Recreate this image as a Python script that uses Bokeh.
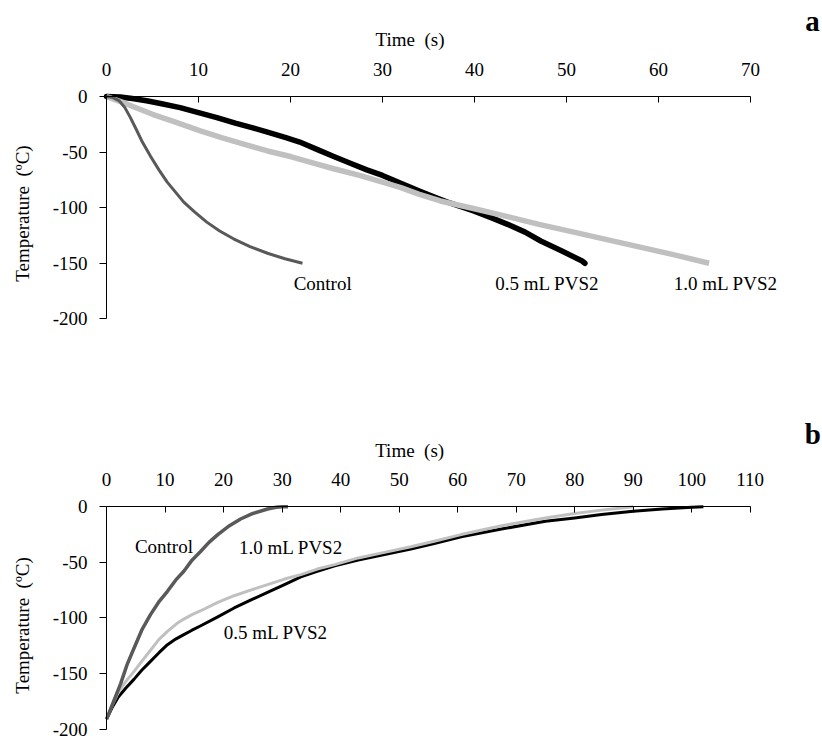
from math import pi
from bokeh.plotting import figure
from bokeh.layouts import column
from bokeh.models import FixedTicker, Range1d, CustomJSTickFormatter
from bokeh.core.properties import value
from bokeh.embed import file_html
from bokeh.resources import INLINE

FONT = "Liberation Serif"

# ---------------- Panel a (cooling) ----------------
a_ctrl_t = [0, 0.7, 1.4, 2.0, 2.6, 3.2, 3.9, 4.8, 5.7, 6.6, 7.5, 8.4, 9.6, 10.9, 12.3, 13.8, 15.6, 17.5, 19.4, 21.3]
a_ctrl_v = [0, -1, -4, -10, -19, -29, -41, -54, -66, -77, -86, -95, -104, -113, -121, -128, -135, -141, -146, -150]

a_05_t = [0, 1.5, 3, 4.5, 6, 8, 10.2, 12, 14, 16, 17.5, 19.5, 21, 23, 24.7, 26.5, 28.3, 30, 32, 34,
          35.5, 37.4, 39.9, 41.8, 43.6, 45.5, 47.2, 49.5, 51.7, 52]
a_05_v = [0, -0.5, -2, -4, -6.5, -10, -15, -19, -24, -28.5, -32, -37, -41, -48, -54, -60, -66, -71, -78, -85,
          -90, -96, -103, -109, -115, -122, -130, -139, -148, -150]

a_10_t = [0, 1, 2, 3, 5, 7.5, 10.2, 12.5, 15, 17.5, 20, 22.5, 24.7, 27.5, 30, 32, 34, 36.3, 40, 43.6,
          47, 50.8, 54.5, 58, 61.5, 65.5]
a_10_v = [0, -3, -6, -9.5, -16, -23, -31, -37, -43, -49, -54, -60, -65, -71, -77, -82, -88, -94, -101, -108,
          -115, -122, -129, -135.5, -142, -150]

a_xticks = [0, 10, 20, 30, 40, 50, 60, 70]
a_yticks = [0, -50, -100, -150, -200]

# ---------------- Panel b (warming) ----------------
b_ctrl_t = [0, 1.2, 2.4, 3.5, 4.7, 6, 7.5, 9, 10.4, 11.8, 13.2, 14.6, 16.1, 17.5, 19, 21, 22.9, 25, 27.5, 29, 30, 31]
b_ctrl_v = [-191, -175, -159, -142, -127, -111, -97, -85, -76, -66, -58, -48, -40, -32, -25, -17, -11, -6, -2, -0.5, 0, 0]

b_05_t = [0, 1, 2, 3.3, 4.7, 6, 7.5, 9, 10.4, 11.8, 13.2, 14.6, 16.1, 19, 21.8, 24.6, 27.5, 30.4, 33.2, 36,
          39, 43, 47.5, 52, 56, 60.6, 67.5, 75, 80, 84.6, 90, 95, 100, 102]
b_05_v = [-191, -180, -171, -163, -155, -147, -139, -131, -124, -119, -115, -111, -107, -99, -91, -84, -77, -70, -63, -58,
          -53, -48, -43, -38, -33, -27, -20, -13, -10, -7, -4, -2, -0.5, 0]

b_10_t = [0, 1, 2, 3.3, 4.7, 6, 7.5, 9, 10.4, 12, 13.2, 14.6, 16.1, 19, 21.8, 24.6, 27.5, 30.4, 33.2, 36,
          39, 43, 47.5, 52, 56, 60.6, 67.5, 75, 80, 84.6, 88, 90]
b_10_v = [-191, -178, -167, -157, -148, -139, -129, -119, -112, -105, -101, -97, -93.5, -86, -80, -75, -70, -65, -61, -56,
          -52, -46, -41, -36, -31, -25, -17, -10, -6, -3, -1, 0]

b_xticks = [0, 10, 20, 30, 40, 50, 60, 70, 80, 90, 100, 110]
b_yticks = [0, -50, -100, -150, -200]

labels_a = ["Control", "0.5 mL PVS2", "1.0 mL PVS2"]
labels_a_x = [23.5, 47.9, 67.3]
labels_a_y = [-168, -168, -168]

labels_b = ["Control", "1.0 mL PVS2", "0.5 mL PVS2"]
labels_b_x = [9.8, 31.5, 28.9]
labels_b_y = [-36, -37, -113]

x_title = "Time\u00a0\u00a0(s)"
y_title = "Temperature\u00a0\u00a0(ºC)"

C_CTRL = "#595959"
C_05 = "#000000"
C_10 = "#c0c0c0"


def make_fig(h, xr, yr, xbounds, xticks, yticks):
    p = figure(width=822, height=h, x_range=Range1d(*xr), y_range=Range1d(*yr),
               x_axis_location="above", toolbar_location=None, output_backend="svg",
               min_border=0)
    p.xgrid.visible = False
    p.ygrid.visible = False
    p.outline_line_color = None
    p.background_fill_color = "white"
    p.border_fill_color = "white"
    xa = p.xaxis[0]
    ya = p.yaxis[0]
    xa.fixed_location = 0
    ya.fixed_location = 0
    xa.bounds = xbounds
    ya.bounds = (-200, 0)
    xa.ticker = FixedTicker(ticks=xticks)
    ya.ticker = FixedTicker(ticks=yticks)
    ya.formatter = CustomJSTickFormatter(code="return tick.toString()")
    xa.minor_tick_line_color = None
    ya.minor_tick_line_color = None
    xa.major_tick_in = 6
    xa.major_tick_out = 0
    ya.major_tick_in = 0
    ya.major_tick_out = 7
    for ax in (xa, ya):
        ax.axis_line_color = "black"
        ax.major_tick_line_color = "black"
        ax.major_label_text_font = FONT
        ax.major_label_text_font_size = "19px"
        ax.major_label_text_color = "black"
    xa.major_label_standoff = 21
    ya.major_label_standoff = 12
    return p


def add_texts(p, xt_x, xt_y, yt_x, yt_y, tag, tag_x, tag_y, lx, ly, lt):
    p.text(x=[xt_x], y=[xt_y], text=[x_title], text_font=value(FONT), text_font_size="19px",
           text_align="center", text_baseline="middle", text_color="black")
    p.text(x=[yt_x], y=[yt_y], text=[y_title], angle=pi / 2, text_font=value(FONT),
           text_font_size="19px", text_align="center", text_baseline="middle", text_color="black")
    p.text(x=[tag_x], y=[tag_y], text=[tag], text_font=value(FONT), text_font_size="29px",
           text_font_style="bold", text_align="center", text_baseline="middle", text_color="black")
    p.text(x=lx, y=ly, text=lt, text_font=value(FONT), text_font_size="19px",
           text_align="center", text_baseline="middle", text_color="black")


# ---------- figure a ----------
pa = make_fig(365, (-11.522, 77.826), (-242.0, 86.37), (0, 70), a_xticks, a_yticks)
pa.line(a_05_t, a_05_v, line_color=C_05, line_width=5.5, line_join="round", line_cap="round")
pa.line(a_10_t, a_10_v, line_color=C_10, line_width=5.5, line_join="round")
pa.line(a_ctrl_t, a_ctrl_v, line_color=C_CTRL, line_width=3, line_join="round")
add_texts(pa, 33.0, 51.1, -9.08, -105.3, "a", 76.74, 68.3, labels_a_x, labels_a_y, labels_a)

# ---------- figure b ----------
pb = make_fig(375, (-18.135, 122.36), (-210.2, 127.07), (0, 110), b_xticks, b_yticks)
pb.line(b_05_t, b_05_v, line_color=C_05, line_width=3, line_join="round")
pb.line(b_10_t, b_10_v, line_color=C_10, line_width=3, line_join="round")
pb.line(b_ctrl_t, b_ctrl_v, line_color=C_CTRL, line_width=3.5, line_join="round")
add_texts(pb, 51.8, 50.8, -14.29, -106.7, "b", 120.7, 65.2, labels_b_x, labels_b_y, labels_b)

layout = column(pa, pb, spacing=0)
open("out.html", "w").write(file_html(layout, INLINE))
